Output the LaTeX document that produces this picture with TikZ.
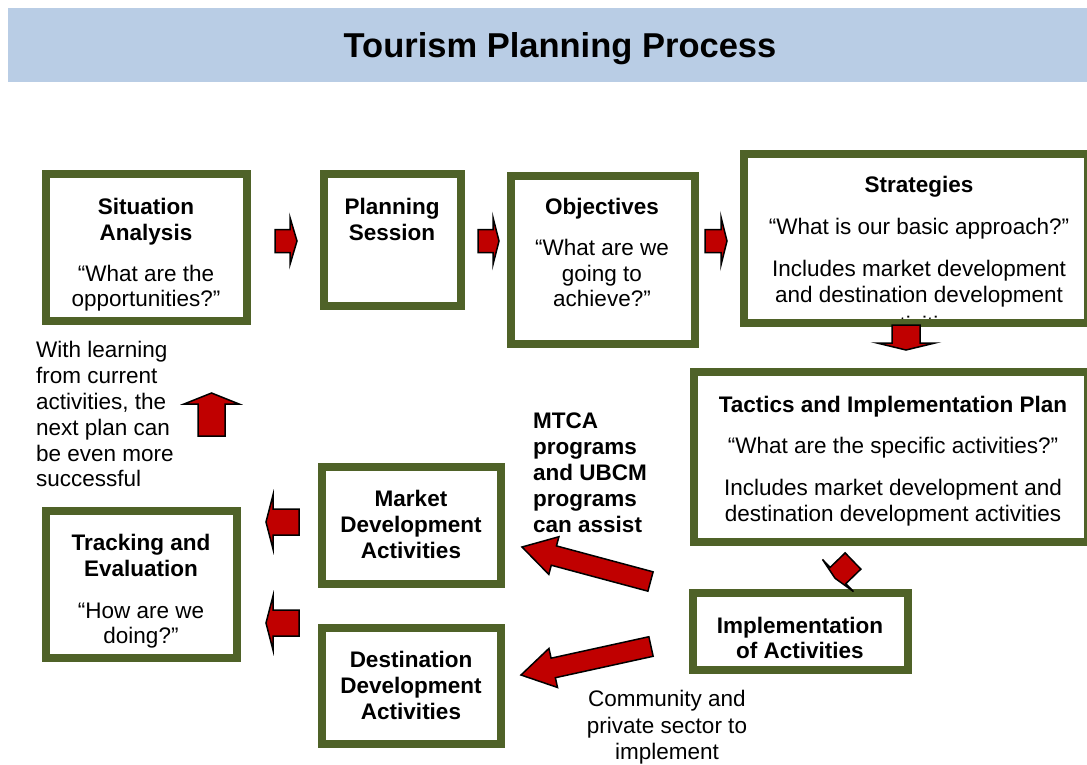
\documentclass[tikz,border=0pt]{standalone}
\usepackage{fontspec}
\setmainfont{Liberation Sans}
\usetikzlibrary{calc}
\definecolor{boxgreen}{HTML}{4F6228}
\definecolor{arrred}{HTML}{C00000}
\definecolor{bandblue}{HTML}{B9CDE5}
\newcommand\blockarr[5]{%
  \coordinate (babase) at ($(#2)!#5pt!(#1)$);
  \draw[blockarrow] ($(#1)!#3pt!90:(#2)$) -- ($(babase)!#3pt!90:(#2)$) -- ($(babase)!#4pt!90:(#2)$) -- (#2)
    -- ($(babase)!#4pt!-90:(#2)$) -- ($(babase)!#3pt!-90:(#2)$) -- ($(#1)!#3pt!-90:(#2)$) -- cycle;}
\begin{document}
\begin{tikzpicture}[x=1pt,y=-1pt,
  box/.style={draw=boxgreen, line width=8pt, fill=white, inner sep=0pt, outer sep=0pt, anchor=north west},
  tx/.style={anchor=base, inner sep=0pt, font=\fontsize{22.5}{26}\selectfont},
  bx/.style={tx, font=\fontsize{22.5}{26}\selectfont\bfseries},
  tl/.style={tx, anchor=base west},
  bl/.style={bx, anchor=base west},
  blockarrow/.style={draw=black, line width=1.5pt, fill=arrred, line join=miter}]
\useasboundingbox (0,0) rectangle (1087,764);
\fill[bandblue] (8,8) rectangle (1087,82);
\node[anchor=base, inner sep=0pt, font=\fontsize{34.5}{40}\selectfont\bfseries] (title) at (560,57) {Tourism Planning Process};

% boxes
\node[box, minimum width=201pt, minimum height=147pt] (sa) at (46,174) {};
\node[box, minimum width=137pt, minimum height=132pt] (ps) at (324,174) {};
\node[box, minimum width=184pt, minimum height=168pt] (obj) at (511,176) {};
\node[box, minimum width=344pt, minimum height=169pt] (str) at (744,154) {};
\node[box, minimum width=394pt, minimum height=170pt] (tac) at (694,372) {};
\node[box, minimum width=215pt, minimum height=77pt] (imp) at (693,593) {};
\node[box, minimum width=179pt, minimum height=117pt] (mkt) at (322,467) {};
\node[box, minimum width=179pt, minimum height=116pt] (dst) at (322,628) {};
\node[box, minimum width=191pt, minimum height=147pt] (trk) at (46,511) {};

% texts
\node[bx] (sa1) at (146,214) {Situation};
\node[bx] (sa2) at (146,240) {Analysis};
\node[tx] (sa3) at (146,281) {“What are the};
\node[tx] (sa4) at (146,306) {opportunities?”};

\node[bx] (ps1) at (392,214) {Planning};
\node[bx] (ps2) at (392,240) {Session};

\node[bx] (ob1) at (602,214) {Objectives};
\node[tx] (ob2) at (602,255) {“What are we};
\node[tx] (ob3) at (602,281) {going to};
\node[tx] (ob4) at (602,306) {achieve?”};

\node[bx] (st1) at (919,192) {Strategies};
\node[tx] (st2) at (919,234) {“What is our basic approach?”};
\node[tx] (st3) at (919,276) {Includes market development};
\node[tx] (st4) at (919,302) {and destination development};
\begin{scope}
  \clip (748,158) rectangle (1084,318);
  \node[tx] (st5) at (919,332) {activities};
\end{scope}

\node[bx] (ta1) at (893,412) {Tactics and Implementation Plan};
\node[tx] (ta2) at (893,453) {“What are the specific activities?”};
\node[tx] (ta3) at (893,495) {Includes market development and};
\node[tx] (ta4) at (893,521) {destination development activities};

\node[bx] (im1) at (800,633) {Implementation};
\node[bx] (im2) at (800,658) {of Activities};

\node[bx] (mk1) at (411,506) {Market};
\node[bx] (mk2) at (411,532) {Development};
\node[bx] (mk3) at (411,558) {Activities};

\node[bx] (ds1) at (411,667) {Destination};
\node[bx] (ds2) at (411,693) {Development};
\node[bx] (ds3) at (411,719) {Activities};

\node[bx] (tr1) at (141,550) {Tracking and};
\node[bx] (tr2) at (141,576) {Evaluation};
\begin{scope}
  \clip (50,515) rectangle (233,648);
  \node[tx] (tr3) at (141,618) {“How are we};
  \node[tx] (tr4) at (141,643) {doing?”};
\end{scope}

\node[tl] (le1) at (36,357) {With learning};
\node[tl] (le2) at (36,383) {from current};
\node[tl] (le3) at (36,409) {activities, the};
\node[tl] (le4) at (36,435) {next plan can};
\node[tl] (le5) at (36,461) {be even more};
\node[tl] (le6) at (36,486) {successful};

\node[bl] (mt1) at (533,428) {MTCA};
\node[bl] (mt2) at (533,454) {programs};
\node[bl] (mt3) at (533,480) {and UBCM};
\node[bl] (mt4) at (533,506) {programs};
\node[bl] (mt5) at (533,532) {can assist};

\node[tx] (cm1) at (667,706) {Community and};
\node[tx] (cm2) at (667,733) {private sector to};
\node[tx] (cm3) at (667,759) {implement};

% arrows
\coordinate (a1t) at (275,241); \coordinate (a1h) at (297,241);
\coordinate (a2t) at (478,241); \coordinate (a2h) at (499,241);
\coordinate (a3t) at (705,241); \coordinate (a3h) at (727,241);
\coordinate (a4t) at (906,325); \coordinate (a4h) at (906,350);
\coordinate (a5t) at (853,561); \coordinate (a5h) at (835.1,578.3);
\coordinate (a6t) at (650.5,581.5); \coordinate (a6h) at (522,547);
\coordinate (a7t) at (651,646.5); \coordinate (a7h) at (521,675);
\coordinate (a8t) at (299,522); \coordinate (a8h) at (266,522);
\coordinate (a9t) at (299,623); \coordinate (a9h) at (266,623);
\coordinate (a10t) at (211.5,436); \coordinate (a10h) at (211.5,393);
\blockarr{a1t}{a1h}{11.5}{23.5}{7}
\blockarr{a2t}{a2h}{11.5}{23.5}{6}
\blockarr{a3t}{a3h}{11.5}{24}{6}
\blockarr{a4t}{a4h}{14}{29}{7}
\blockarr{a5t}{a5h}{11.3}{22.3}{4}
\blockarr{a6t}{a6h}{10}{19.5}{33}
\blockarr{a7t}{a7h}{10}{20}{33}
\blockarr{a8t}{a8h}{13}{27}{7}
\blockarr{a9t}{a9h}{13}{27}{7}
\blockarr{a10t}{a10h}{13.5}{27.5}{11}
\end{tikzpicture}
\end{document}
